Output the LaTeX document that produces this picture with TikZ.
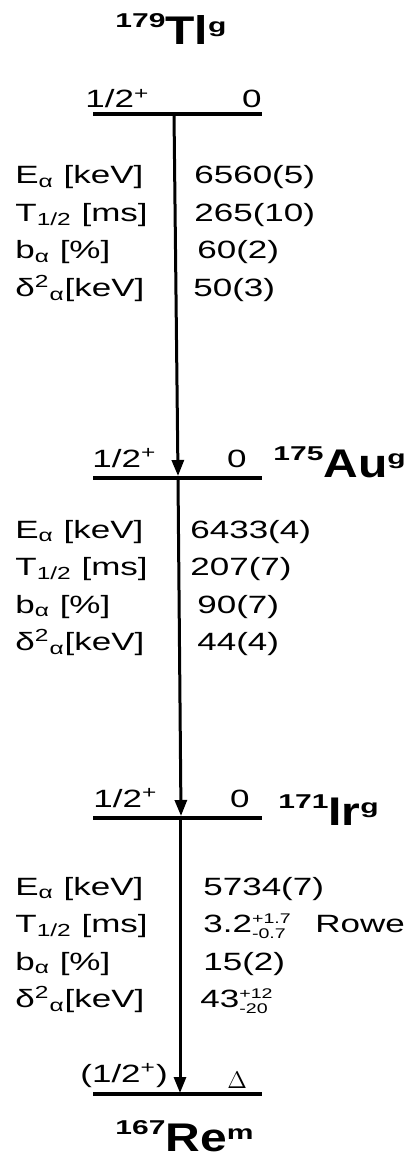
\documentclass[tikz,border=0pt]{standalone}
\usepackage{fontspec}
\setmainfont[FakeStretch=1.4]{Liberation Sans}
\newfontfamily\elfont[FakeStretch=1.2]{Liberation Sans}
\newfontfamily\massfont[FakeStretch=1.5]{Liberation Sans}
\usepackage{tikz}
\usetikzlibrary{arrows.meta}
\tikzset{
  level/.style={line width=2pt},
  decay/.style={line width=1.5pt,-{Triangle[width=6pt,length=8pt]}},
  txt/.style={anchor=base west,inner sep=0pt,font=\fontsize{12.5}{15}\selectfont},
  txtr/.style={anchor=base east,inner sep=0pt,font=\fontsize{12.5}{15}\selectfont},
}
\newcommand{\nucl}[3]{{\massfont\bfseries\fontsize{10}{12}\selectfont\raisebox{8.5pt}{#1}}{\elfont\bfseries\fontsize{20}{24}\selectfont #2}{\massfont\bfseries\fontsize{10}{12}\selectfont\raisebox{6pt}{#3}}}
\newcommand{\errs}[2]{$^{\mbox{\fontsize{7}{8}\selectfont#1}}_{\mbox{\fontsize{7}{8}\selectfont#2}}$}
\begin{document}
\begin{tikzpicture}[x=0.5pt,y=-0.5pt]
\useasboundingbox (0,0) rectangle (408,1159);
% levels
\coordinate (tlL) at (93,114);   \coordinate (tlR) at (262,114);
\coordinate (auL) at (93,478);   \coordinate (auR) at (262,478);
\coordinate (irL) at (93,818);   \coordinate (irR) at (262,818);
\coordinate (reL) at (93,1094);  \coordinate (reR) at (262,1094);
\draw[level] (tlL) -- (tlR);
\draw[level] (auL) -- (auR);
\draw[level] (irL) -- (irR);
\draw[line width=1.6pt] (reL) -- (reR);
% decays
\coordinate (tlA) at (174,114);  \coordinate (auT) at (178,476);
\coordinate (auA) at (178,478);  \coordinate (irT) at (181,816);
\coordinate (irA) at (180,818);  \coordinate (reT) at (180,1093);
\draw[decay] (tlA) -- (auT);
\draw[decay] (auA) -- (irT);
\draw[decay] (irA) -- (reT);
% nuclei
\node[anchor=base west,inner sep=0pt] (tl) at (115,45) {\nucl{179}{Tl}{g}};
\node[anchor=base west,inner sep=0pt] (au) at (273,477) {\nucl{175}{Au}{g}};
\node[anchor=base west,inner sep=0pt] (ir) at (278,825) {\nucl{171}{Ir}{g}};
\node[anchor=base west,inner sep=0pt] (re) at (115,1151) {\nucl{167}{Re}{m}};
% spins and energies
\node[txt] (sp1) at (85,108) {1/2\textsuperscript{+}};
\node[txtr] (en1) at (262,108) {0};
\node[txt] (sp2) at (92,467) {1/2\textsuperscript{+}};
\node[txtr] (en2) at (247,467) {0};
\node[txt] (sp3) at (93,807) {1/2\textsuperscript{+}};
\node[txtr] (en3) at (250,807) {0};
\node[txt] (sp4) at (80,1082) {(1/2\textsuperscript{+})};
\node[txt] (en4) at (227,1088) {$\Delta$};
% decay data
\foreach \yy in {184,538,895}
  \foreach \lab [count=\r from 0] in {{E\textsubscript{α} [keV]},{T\textsubscript{1/2} [ms]},{b\textsubscript{α} [\%]},{δ\textsuperscript{2}\textsubscript{α}[keV]}}
    \node[txt] (lab\yy-\r) at (15,{\yy+37.5*\r}) {\lab};
\foreach \v/\xx [count=\r from 0] in {6560(5)/194,265(10)/194,60(2)/197,50(3)/193}
  \node[txt] (tv\r) at (\xx,{184+37.5*\r}) {\v};
\foreach \v/\xx [count=\r from 0] in {6433(4)/190,207(7)/190,90(7)/197,44(4)/197}
  \node[txt] (av\r) at (\xx,{538+37.5*\r}) {\v};
\foreach \v/\xx [count=\r from 0] in {5734(7)/203,{3.2\errs{+1.7}{-0.7}}/203,15(2)/203,{43\errs{+12}{-20}}/200}
  \node[txt] (iv\r) at (\xx,{895+37.5*\r}) {\v};
\node[txt] (rowe) at (315,932.5) {Rowe};
\end{tikzpicture}
\end{document}
